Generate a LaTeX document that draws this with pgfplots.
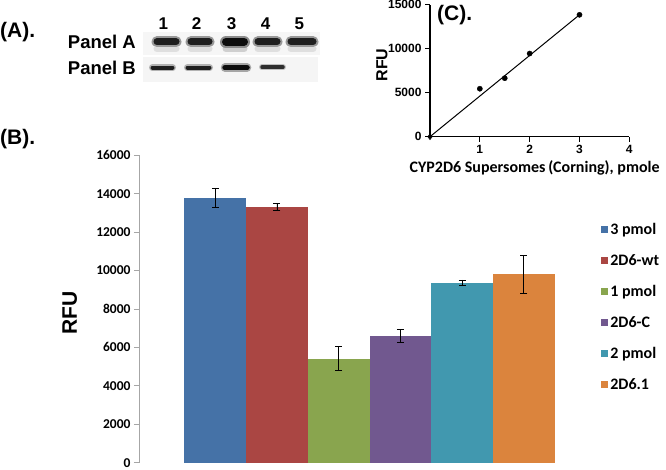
\documentclass[border=0pt]{standalone}
\usepackage{fontspec}
\setmainfont{Liberation Sans}
\newfontfamily\calibri{Carlito}
\usepackage{pgfplots}
\pgfplotsset{compat=1.18}

\definecolor{cBlue}{HTML}{4572A7}
\definecolor{cRed}{HTML}{AA4643}
\definecolor{cGreen}{HTML}{89A54E}
\definecolor{cPurple}{HTML}{71588F}
\definecolor{cTeal}{HTML}{4198AF}
\definecolor{cOrange}{HTML}{DB843D}
\definecolor{axgray}{HTML}{A6A6A6}

\begin{document}
\begin{tikzpicture}[x=1pt,y=1pt]
\useasboundingbox (0,0) rectangle (666,470);

% panel letters
\node[anchor=west,inner sep=0pt,font=\bfseries\fontsize{21}{22}\selectfont] at (0,438) {(A).};
\node[anchor=west,inner sep=0pt,font=\bfseries\fontsize{21}{22}\selectfont] at (0,331) {(B).};
\node[anchor=west,inner sep=0pt,font=\bfseries\fontsize{21}{22}\selectfont] at (437,455) {(C).};

% ---------- (A) blot ----------
\begin{axis}[
    at={(140pt,385pt)}, anchor=south west, scale only axis,
    width=185pt, height=55pt,
    xmin=140, xmax=325, ymin=385, ymax=440,
    hide axis, clip=false,
]
\addplot[fill=gray!7, draw=none] coordinates {(143,415)(320,415)(320,438.3)(143,438.3)} -- cycle;
\addplot[fill=gray!8, draw=none] coordinates {(143,388.3)(318,388.3)(318,413.3)(143,413.3)} -- cycle;
% faint smear under the upper bands
\addplot[gray!25, line width=7pt, line cap=round] coordinates {(157,421)(176,421)};
\addplot[gray!25, line width=7pt, line cap=round] coordinates {(191,421)(209,421)};
\addplot[gray!38, line width=7pt, line cap=round] coordinates {(226,421)(244,421)};
\addplot[gray!25, line width=7pt, line cap=round] coordinates {(258,421)(277,421)};
\addplot[gray!25, line width=7pt, line cap=round] coordinates {(291,421)(313,421)};
% halos
\addplot[black!40, line width=11pt, line cap=round] coordinates {(157,428.3)(176,428.3)};
\addplot[black!40, line width=11pt, line cap=round] coordinates {(191,428.3)(209,428.3)};
\addplot[black!45, line width=12pt, line cap=round] coordinates {(226,427.8)(244,427.8)};
\addplot[black!40, line width=11pt, line cap=round] coordinates {(258,428.3)(277,428.3)};
\addplot[black!40, line width=11pt, line cap=round] coordinates {(291,428.3)(313,428.3)};
\addplot[black!30, line width=7pt, line cap=round] coordinates {(152.5,402.3)(172.5,402.3)};
\addplot[black!30, line width=7pt, line cap=round] coordinates {(187.5,402.3)(209.5,402.3)};
\addplot[black!35, line width=8.5pt, line cap=round] coordinates {(225,402.3)(247,402.3)};
\addplot[black!25, line width=6pt, line cap=round] coordinates {(262,402.8)(283,402.8)};
% panel A bands
\addplot[black!88, line width=7pt, line cap=round] coordinates {(157,428.3)(176,428.3)};
\addplot[black!88, line width=7pt, line cap=round] coordinates {(191,428.3)(209,428.3)};
\addplot[black!95, line width=8pt, line cap=round] coordinates {(226,428.3)(244,428.3)};
\addplot[black!88, line width=7pt, line cap=round] coordinates {(258,428.3)(277,428.3)};
\addplot[black!88, line width=7pt, line cap=round] coordinates {(291,428.3)(313,428.3)};
% panel B bands
\addplot[black!88, line width=4pt, line cap=round] coordinates {(152.5,402.3)(172.5,402.3)};
\addplot[black!88, line width=4pt, line cap=round] coordinates {(187.5,402.3)(209.5,402.3)};
\addplot[black!95, line width=5.5pt, line cap=round] coordinates {(225,402.3)(247,402.3)};
\addplot[black!82, line width=3.5pt, line cap=round] coordinates {(262,402.8)(283,402.8)};
\node[font=\bfseries\fontsize{17}{18}\selectfont] at (axis cs:163.3,446.7) {1};
\node[font=\bfseries\fontsize{17}{18}\selectfont] at (axis cs:196.7,446.7) {2};
\node[font=\bfseries\fontsize{17}{18}\selectfont] at (axis cs:231.7,446.7) {3};
\node[font=\bfseries\fontsize{17}{18}\selectfont] at (axis cs:265.7,446.7) {4};
\node[font=\bfseries\fontsize{17}{18}\selectfont] at (axis cs:299.3,446.7) {5};
\node[anchor=east,inner sep=0pt,font=\bfseries\fontsize{18.5}{20}\selectfont] at (axis cs:136,428.3) {Panel A};
\node[anchor=east,inner sep=0pt,font=\bfseries\fontsize{18.5}{20}\selectfont] at (axis cs:136,401.7) {Panel B};
\end{axis}

% ---------- (B) bar chart ----------
\begin{axis}[
    at={(139pt,7.3pt)}, anchor=south west, scale only axis,
    width=461pt, height=307.4pt,
    ybar=0pt, bar width=61.7pt,
    xmin=-1, xmax=1, ymin=0, ymax=16000,
    axis x line=none, axis y line*=left,
    xtick=\empty,
    ytick={0,2000,...,16000},
    y axis line style={axgray, line width=0.8pt},
    ytick style={axgray, line width=0.8pt},
    tick align=outside, major tick length=5pt,
    scaled y ticks=false,
    /pgf/number format/1000 sep={},
    /pgf/number format/assume math mode=true,
    yticklabel style={font=\calibri\bfseries\fontsize{13.5}{14}\selectfont},
    ylabel={RFU},
    ylabel style={at={(axis description cs:-0.15,0.486)}, anchor=center, rotate=0,
        font=\bfseries\fontsize{21}{22}\selectfont},
    legend style={at={(0.996,0.815)}, anchor=north west, draw=none, fill=none,
        font=\calibri\bfseries\fontsize{16}{18}\selectfont,
        nodes={minimum height=31pt}},
    legend cell align=left,
    legend image code/.code={\fill[#1] (0pt,-3.5pt) rectangle (7pt,3.5pt);},
    clip=false,
]
\addplot[fill=cBlue, draw=none, error bars/.cd, y dir=both, y explicit,
    error bar style={black, line width=0.9pt},
    error mark options={rotate=90, mark size=3.5pt, black, line width=0.9pt}]
    coordinates {(0,13800) +- (0,500)};
\addlegendentry{3 pmol}
\addplot[fill=cRed, draw=none, error bars/.cd, y dir=both, y explicit,
    error bar style={black, line width=0.9pt},
    error mark options={rotate=90, mark size=3.5pt, black, line width=0.9pt}]
    coordinates {(0,13300) +- (0,190)};
\addlegendentry{2D6-wt}
\addplot[fill=cGreen, draw=none, error bars/.cd, y dir=both, y explicit,
    error bar style={black, line width=0.9pt},
    error mark options={rotate=90, mark size=3.5pt, black, line width=0.9pt}]
    coordinates {(0,5420) +- (0,620)};
\addlegendentry{1 pmol}
\addplot[fill=cPurple, draw=none, error bars/.cd, y dir=both, y explicit,
    error bar style={black, line width=0.9pt},
    error mark options={rotate=90, mark size=3.5pt, black, line width=0.9pt}]
    coordinates {(0,6600) +- (0,350)};
\addlegendentry{2D6-C}
\addplot[fill=cTeal, draw=none, error bars/.cd, y dir=both, y explicit,
    error bar style={black, line width=0.9pt},
    error mark options={rotate=90, mark size=3.5pt, black, line width=0.9pt}]
    coordinates {(0,9370) +- (0,140)};
\addlegendentry{2 pmol}
\addplot[fill=cOrange, draw=none, error bars/.cd, y dir=both, y explicit,
    error bar style={black, line width=0.9pt},
    error mark options={rotate=90, mark size=3.5pt, black, line width=0.9pt}]
    coordinates {(0,9800) +- (0,1000)};
\addlegendentry{2D6.1}
\end{axis}

% ---------- (C) standard curve ----------
\begin{axis}[
    at={(430pt,333.3pt)}, anchor=south west, scale only axis,
    width=199.3pt, height=132pt,
    xmin=0, xmax=4, ymin=0, ymax=15000,
    axis lines*=left,
    axis line style={black, line width=1.2pt},
    tick style={black, line width=1.2pt},
    tick align=outside, major tick length=5pt,
    xtick={1,2,3,4}, ytick={0,5000,10000,15000},
    scaled y ticks=false,
    /pgf/number format/1000 sep={},
    /pgf/number format/assume math mode=true,
    ticklabel style={font=\bfseries\fontsize{12}{13}\selectfont},
    xlabel={CYP2D6 Supersomes\,(Corning), pmole},
    xlabel style={at={(axis description cs:0.525,-0.235)}, anchor=center,
        font=\calibri\bfseries\fontsize{16}{18}\selectfont},
    ylabel={RFU},
    ylabel style={at={(axis description cs:-0.241,0.543)}, anchor=center,
        font=\bfseries\fontsize{16}{18}\selectfont},
    clip=false,
]
\addplot[black, line width=1pt] coordinates {(0,0)(3,13850)};
\addplot[only marks, mark=*, mark size=2.6pt, black] coordinates {(1,5450)(1.5,6650)(2,9450)(3,13850)};
\addplot[only marks, mark=diamond*, mark size=3pt, black] coordinates {(0,0)};
\end{axis}
\end{tikzpicture}
\end{document}
